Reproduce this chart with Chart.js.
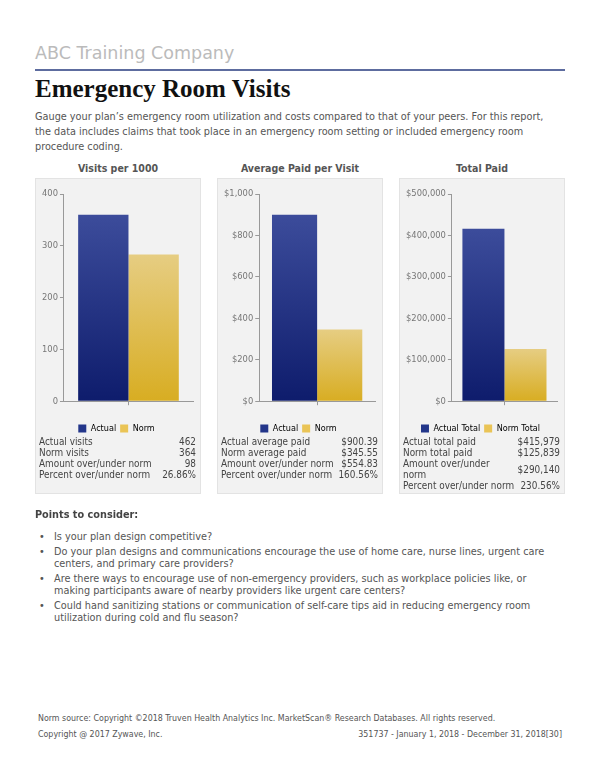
<!DOCTYPE html>
<html>
<head>
<meta charset="utf-8">
<script src="https://cdn.jsdelivr.net/npm/chart.js@4.4.1/dist/chart.umd.min.js"></script>
<style>
    body { margin: 0; width: 600px; height: 776px; background: #fff; position: relative; font-family: "DejaVu Sans Condensed", "DejaVu Sans", sans-serif; color: #444; }
    .abs { position: absolute; }
    #company { left: 35px; top: 43px; font: 17.5px "DejaVu Sans", sans-serif; color: #bbb; }
    #rule { left: 35px; top: 69px; width: 530px; height: 2px; background: #5d6c9f; }
    #title { left: 35px; top: 75px; font: bold 25px "Liberation Serif", serif; color: #111; }
    #intro { left: 35px; top: 109px; width: 518px; font-size: 10.8px; line-height: 15px; color: #555; }
    .ptitle { top: 162px; width: 166px; text-align: center; font-weight: bold; font-size: 10.5px; color: #555; }
    .panel { top: 178px; width: 164px; height: 314px; background: #f2f2f2; border: 1px solid #e3e3e3; }
    .chartbox { position: absolute; left: 0; top: 0; width: 164px; height: 264px; }
    table.stats { position: absolute; left: 3px; top: 257px; width: 157px; border-collapse: collapse; font-size: 9.9px; color: #444; }
    table.stats td { padding: 0; line-height: 11px; vertical-align: middle; white-space: nowrap; }
    table.stats td.v { text-align: right; }
    #points { left: 35px; top: 508px; font-weight: bold; font-size: 10.8px; color: #444; }
    #bullets { left: 35px; top: 531px; width: 530px; margin: 0; padding: 0; list-style: none; font-size: 10.8px; line-height: 12px; color: #555; }
    #bullets li { position: relative; padding-left: 19px; margin-bottom: 3px; }
    #bullets li:before { content: "\2022"; position: absolute; left: 4px; top: 0; }
    .foot { font-size: 8.8px; color: #555; }
</style>
</head>
<body>
<div id="company" class="abs">ABC Training Company</div>
<div id="rule" class="abs"></div>
<div id="title" class="abs">Emergency Room Visits</div>
<div id="intro" class="abs">Gauge your plan’s emergency room utilization and costs compared to that of your peers. For this report, the data includes claims that took place in an emergency room setting or included emergency room procedure coding.</div>

<div id="panels"></div>

<div id="points" class="abs">Points to consider:</div>
<ul id="bullets" class="abs">
    <li>Is your plan design competitive?</li>
    <li>Do your plan designs and communications encourage the use of home care, nurse lines, urgent care centers, and primary care providers?</li>
    <li>Are there ways to encourage use of non-emergency providers, such as workplace policies like, or making participants aware of nearby providers like urgent care centers?</li>
    <li>Could hand sanitizing stations or communication of self-care tips aid in reducing emergency room utilization during cold and flu season?</li>
</ul>

<div class="abs foot" style="left:38px; top:713px;">Norm source: Copyright ©2018 Truven Health Analytics Inc. MarketScan® Research Databases. All rights reserved.</div>
<div class="abs foot" style="left:38px; top:729px;">Copyright @ 2017 Zywave, Inc.</div>
<div class="abs foot" style="right:38px; top:729px;">351737 - January 1, 2018 - December 31, 2018[30]</div>

<script>
// chart data
const panelTitles = ['Visits per 1000', 'Average Paid per Visit', 'Total Paid'];
const actualValues = [360, 900.39, 415979];
const normValues = [283, 345.55, 125839];
const axisMax = [400, 1000, 500000];
const axisStep = [100, 200, 100000];
const moneyAxis = [false, true, true];
const actualLabels = ['Actual', 'Actual', 'Actual Total'];
const normLabels = ['Norm', 'Norm', 'Norm Total'];

// stat tables under each chart
const statRows = [
    [['Actual visits', '462'], ['Norm visits', '364'], ['Amount over/under norm', '98'], ['Percent over/under norm', '26.86%']],
    [['Actual average paid', '$900.39'], ['Norm average paid', '$345.55'], ['Amount over/under norm', '$554.83'], ['Percent over/under norm', '160.56%']],
    [['Actual total paid', '$415,979'], ['Norm total paid', '$125,839'], ['Amount over/under norm', '$290,140'], ['Percent over/under norm', '230.56%']]
];

const panelLeft = [35, 217, 399];
const barShare = [0.78, 0.78, 0.8];

function barFill(top, bottom) {
    return function (ctx) {
        const chart = ctx.chart;
        const area = chart.chartArea;
        if (!area || ctx.raw === undefined) return bottom;
        const yTop = chart.scales.y.getPixelForValue(ctx.raw);
        const g = chart.ctx.createLinearGradient(0, yTop, 0, area.bottom);
        g.addColorStop(0, top);
        g.addColorStop(1, bottom);
        return g;
    };
}

function fmtTick(i, v) {
    if (!moneyAxis[i]) return v;
    return '$' + v.toLocaleString('en-US');
}

const holder = document.getElementById('panels');

panelTitles.forEach(function (title, i) {
    const t = document.createElement('div');
    t.className = 'abs ptitle';
    t.style.left = panelLeft[i] + 'px';
    t.textContent = title;
    holder.appendChild(t);

    const p = document.createElement('div');
    p.className = 'abs panel';
    p.style.left = panelLeft[i] + 'px';
    p.innerHTML = '<div class="chartbox"><canvas id="c' + i + '"></canvas></div>';

    let rows = '';
    statRows[i].forEach(function (r) {
        let label = r[0];
        if (i === 2 && label === 'Amount over/under norm') label = 'Amount over/under<br>norm';
        rows += '<tr><td>' + label + '</td><td class="v">' + r[1] + '</td></tr>';
    });
    p.innerHTML += '<table class="stats">' + rows + '</table>';
    holder.appendChild(p);

    new Chart(document.getElementById('c' + i), {
        type: 'bar',
        data: {
            labels: [''],
            datasets: [{
                label: actualLabels[i],
                data: [actualValues[i]],
                backgroundColor: barFill('#3c4c9b', '#0e1c6c'),
                legendColor: '#23368a'
            }, {
                label: normLabels[i],
                data: [normValues[i]],
                backgroundColor: barFill('#e6cd82', '#d8ad22'),
                legendColor: '#eac456'
            }]
        },
        options: {
            responsive: true,
            maintainAspectRatio: false,
            animation: false,
            categoryPercentage: barShare[i],
            barPercentage: 1,
            layout: { padding: { top: 15, right: 7, left: 4, bottom: 0 } },
            plugins: {
                tooltip: { enabled: false },
                legend: {
                    position: 'bottom',
                    labels: {
                        boxWidth: 8,
                        boxHeight: 8,
                        padding: 4,
                        color: '#666',
                        font: { family: 'DejaVu Sans Condensed', size: 9 },
                        generateLabels: function (chart) {
                            return chart.data.datasets.map(function (ds, k) {
                                return { text: ds.label, fillStyle: ds.legendColor, strokeStyle: ds.legendColor, lineWidth: 0, datasetIndex: k };
                            });
                        }
                    }
                }
            },
            scales: {
                x: {
                    grid: { display: true, drawOnChartArea: false, offset: false, tickLength: 4, color: '#999' },
                    border: { color: '#999' },
                    ticks: { font: { size: 4 }, padding: 5 }
                },
                y: {
                    min: 0,
                    max: axisMax[i],
                    ticks: {
                        stepSize: axisStep[i],
                        padding: 2,
                        color: '#777',
                        font: { family: 'DejaVu Sans Condensed', size: 9.3 },
                        callback: function (v) { return fmtTick(i, v); }
                    },
                    grid: { drawOnChartArea: false, tickLength: 4, color: '#999' },
                    border: { color: '#999' }
                }
            }
        }
    });
});
</script>
</body>
</html>
